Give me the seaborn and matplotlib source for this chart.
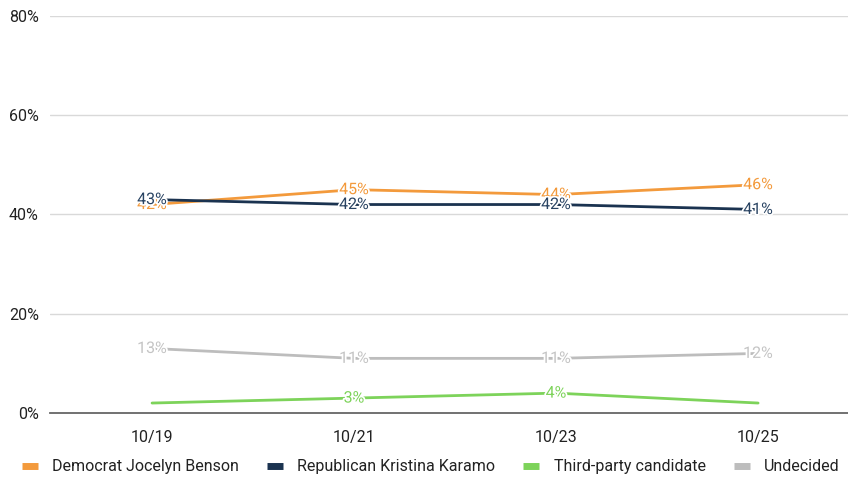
import numpy as np
import pandas as pd
import matplotlib
matplotlib.use("Agg")
import matplotlib.pyplot as plt
import matplotlib.patheffects as pe
from matplotlib.lines import Line2D
import seaborn as sns

# ============================================================
# Data
# ============================================================
DATES = ['10/19', '10/21', '10/23', '10/25']
SERIES = ['Democrat Jocelyn Benson', 'Republican Kristina Karamo',
          'Third-party candidate', 'Undecided']
DEMOCRAT = [42, 45, 44, 46]
REPUBLICAN = [43, 42, 42, 41]
THIRD_PARTY = [2, 3, 4, 2]
UNDECIDED = [13, 11, 11, 12]
# which points carry a data label
THIRD_PARTY_LABELS = [False, True, True, False]
Y_TICKS = [0, 20, 40, 60, 80]

COLORS = {
    'Democrat Jocelyn Benson': '#F39A3C',
    'Republican Kristina Karamo': '#1B3350',
    'Third-party candidate': '#7DD35A',
    'Undecided': '#BDBDBD',
}
LABEL_COLORS = {
    'Democrat Jocelyn Benson': '#F39A3C',
    'Republican Kristina Karamo': '#2A4463',
    'Third-party candidate': '#7DD35A',
    'Undecided': '#C4C4C4',
}

values = {
    'Democrat Jocelyn Benson': DEMOCRAT,
    'Republican Kristina Karamo': REPUBLICAN,
    'Third-party candidate': THIRD_PARTY,
    'Undecided': UNDECIDED,
}
show = {s: [True] * len(DATES) for s in SERIES}
show['Third-party candidate'] = THIRD_PARTY_LABELS

rows = []
for s in SERIES:
    for i, d in enumerate(DATES):
        rows.append({'date': d, 'x': i, 'series': s, 'value': values[s][i]})
df = pd.DataFrame(rows)

# ============================================================
# Plot
# ============================================================
sns.set_theme(style='white')
plt.rcParams['font.family'] = ['Roboto', 'DejaVu Sans']

fig = plt.figure(figsize=(8.48, 4.83), dpi=100)
ax = fig.add_axes([0.059, 0.145, 0.941, 0.822])

sns.lineplot(data=df, x='x', y='value', hue='series', hue_order=SERIES,
             palette=COLORS, linewidth=2.0, ax=ax, legend=False, zorder=3)

# data labels
for s in SERIES:
    for i, v in enumerate(values[s]):
        if not show[s][i]:
            continue
        ax.text(i, v, f'{v}%', ha='center', va='center', fontsize=11.5,
                color=LABEL_COLORS[s], zorder=4,
                path_effects=[pe.withStroke(linewidth=2.5, foreground='white')])

ax.set_xlim(-0.505, 3.445)
ax.set_ylim(0, 80)
ax.set_xticks(range(len(DATES)))
ax.set_xticklabels(DATES)
ax.set_yticks(Y_TICKS)
ax.set_yticklabels([f'{t}%' for t in Y_TICKS])
ax.tick_params(axis='both', labelsize=11.5, colors='#222222', length=0)
ax.tick_params(axis='x', pad=12)
ax.tick_params(axis='y', pad=8)
ax.set_xlabel('')
ax.set_ylabel('')
ax.grid(axis='y', color='#D9D9D9', linewidth=1.0)
ax.set_axisbelow(True)
for side in ['top', 'right', 'left']:
    ax.spines[side].set_visible(False)
ax.spines['bottom'].set_color('#666666')
ax.spines['bottom'].set_linewidth(1.3)
ax.spines['bottom'].set_zorder(2)

handles = [Line2D([0], [0], color=COLORS[s], linewidth=5, solid_capstyle='butt')
           for s in SERIES]
leg = fig.legend(handles, SERIES, loc='lower center', bbox_to_anchor=(0.508, -0.012),
                 ncol=4, frameon=False, handlelength=1.0, handletextpad=0.9,
                 columnspacing=1.75, prop={'size': 11.5})
for t in leg.get_texts():
    t.set_color('#222222')

fig.savefig('out.png', dpi=100)
